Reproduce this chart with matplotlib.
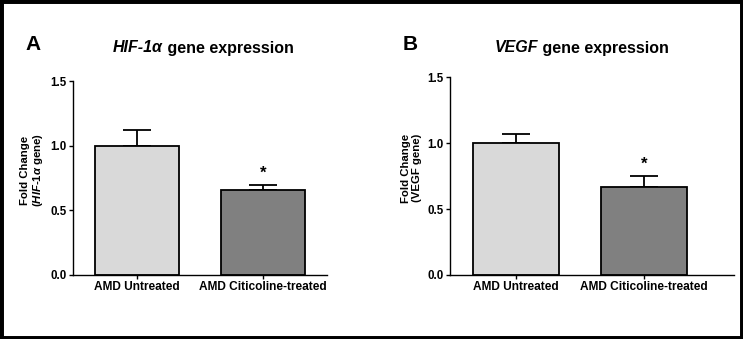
import matplotlib
matplotlib.use("Agg")
import matplotlib.pyplot as plt
from matplotlib.patches import Rectangle

plt.rcParams['font.family'] = ['Liberation Sans', 'DejaVu Sans']
plt.rcParams['font.weight'] = 'bold'
plt.rcParams['mathtext.fontset'] = 'custom'
plt.rcParams['mathtext.it'] = 'Liberation Sans:italic:bold'
plt.rcParams['mathtext.rm'] = 'Liberation Sans:bold'
plt.rcParams['mathtext.bf'] = 'Liberation Sans:bold'

groups = ["AMD Untreated", "AMD Citicoline-treated"]
hif_mean = [1.0, 0.66]
hif_err = [0.12, 0.04]
vegf_mean = [1.0, 0.67]
vegf_err = [0.07, 0.08]
y_ticks = [0.0, 0.5, 1.0, 1.5]
bar_colors = ["#d9d9d9", "#808080"]
signif = ["", "*"]

HIF = r"$\mathit{HIF‐1\alpha}$"


def draw_panel(ax, means, errs, ylabel, xlim, label_x):
    x = list(range(len(groups)))
    ax.bar(x, means, width=0.67, color=bar_colors, edgecolor="black", linewidth=1.3, zorder=2)
    for i in x:
        ax.errorbar(i, means[i], yerr=[[0], [errs[i]]], fmt="none", ecolor="black",
                    elinewidth=1.3, capsize=10, capthick=1.3, zorder=1)
        if signif[i]:
            ax.text(i, means[i] + errs[i] + 0.09, signif[i], ha="center", va="center",
                    fontsize=12, fontweight="bold")
    ax.set_xlim(*xlim)
    ax.set_ylim(0, 1.5)
    ax.set_yticks(y_ticks)
    ax.set_yticklabels([f"{t:.1f}" for t in y_ticks], fontsize=8.3, fontweight="bold")
    ax.set_xticks(x)
    ax.set_xticklabels(groups, fontsize=8.6, fontweight="bold")
    ax.tick_params(axis="both", direction="out", length=3, width=1, pad=1.5)
    for s in ["top", "right"]:
        ax.spines[s].set_visible(False)
    for s in ["left", "bottom"]:
        ax.spines[s].set_linewidth(1)
    ax.set_ylabel(ylabel, fontsize=8.2, fontweight="bold", linespacing=1.15)
    ax.yaxis.set_label_coords(label_x, 0.54)


def panel_title(fig, x_px, gene):
    y = 1 - 48 / 339
    t1 = fig.text(x_px / 743, y, gene, ha="left", va="center", fontsize=11.5,
                  fontweight="bold", fontstyle="italic")
    fig.add_artist(matplotlib.text.Annotation(" gene expression", xy=(1, 0.5), xycoords=t1,
                                              ha="left", va="center", fontsize=11.5,
                                              fontweight="bold"))


fig = plt.figure(figsize=(7.43, 3.39), dpi=100)
fig.patch.set_facecolor("white")

ax1 = fig.add_axes([0.0983, 0.1888, 0.342, 0.572])
draw_panel(ax1, hif_mean, hif_err, "Fold Change\n(" + HIF + " gene)", (-0.508, 1.508), -0.11)

ax2 = fig.add_axes([0.6057, 0.1888, 0.382, 0.584])
draw_panel(ax2, vegf_mean, vegf_err, "Fold Change\n(VEGF gene)", (-0.516, 1.70), -0.099)

panel_title(fig, 113, "HIF-1α")
panel_title(fig, 495, "VEGF")
fig.text(33 / 743, 1 - 45 / 339, "A", ha="center", va="center", fontsize=15, fontweight="bold")
fig.text(410 / 743, 1 - 45 / 339, "B", ha="center", va="center", fontsize=15, fontweight="bold")

fig.patches.append(Rectangle((0, 0), 1, 1, transform=fig.transFigure, fill=False,
                             edgecolor="black", linewidth=5, zorder=10))

fig.savefig("out.png", dpi=100)
